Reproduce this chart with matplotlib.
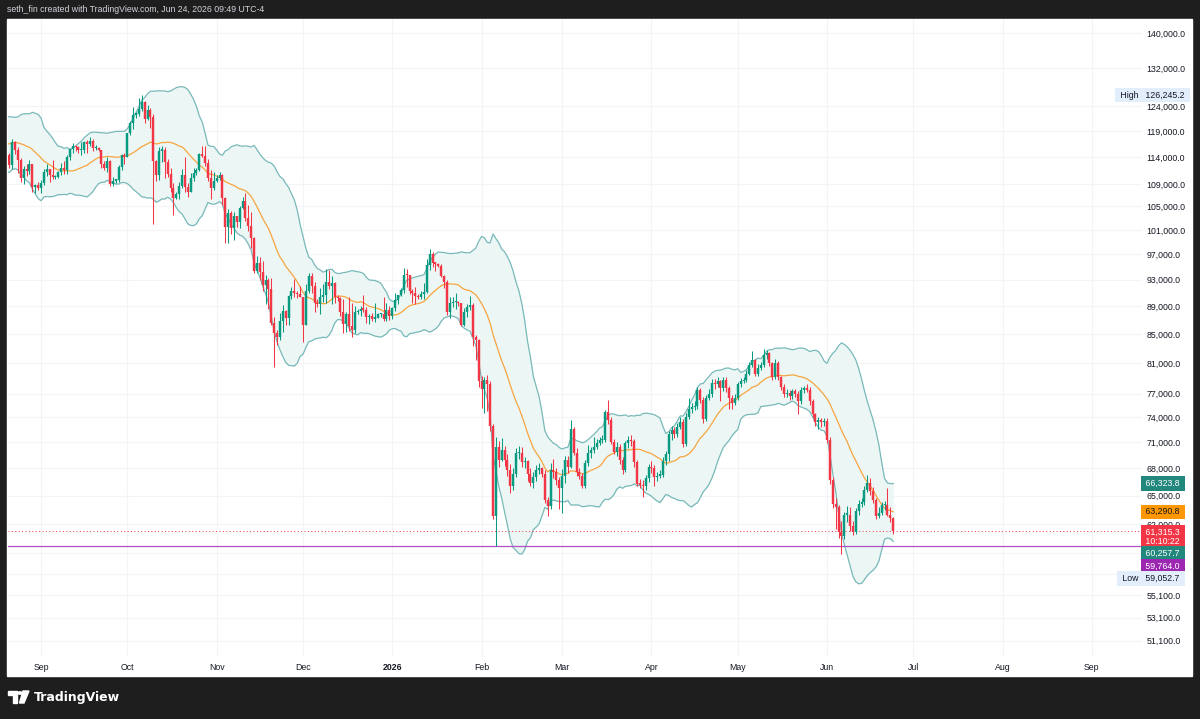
import numpy as np
import pandas as pd
import matplotlib
matplotlib.use('Agg')
import matplotlib.pyplot as plt
import matplotlib.dates as mdates
from matplotlib.ticker import FixedLocator, NullLocator, FuncFormatter
from matplotlib.patches import Rectangle, Polygon, Circle

plt.rcParams['font.family'] = ['Liberation Sans', 'DejaVu Sans']

# BTC/USD daily, thousands of USD. Closes start 2025-08-01 (first 19 days only warm up the bands),
# highs / lows start 2025-08-20, the first candle on screen.
aug_close = [113.3, 112.5, 114.2, 115.0, 114.1, 115.0, 117.5, 116.7, 116.5, 119.3,
             118.7, 120.2, 123.3, 118.3, 117.4, 117.5, 117.5, 116.3, 112.9, 114.3,
             112.5, 116.9, 115.4, 113.5, 110.1, 111.8, 111.3, 112.6, 108.4, 108.8, 108.2]
aug_high = [114.6, 114.8, 117.4, 117.0, 115.8, 113.7, 112.3, 112.6, 113.4, 112.6, 109.0, 109.4]
aug_low = [112.4, 112.0, 111.7, 114.6, 111.0, 109.3, 109.0, 110.4, 110.9, 107.5, 107.4, 107.9]

sep_close = [109.2, 111.2, 111.7, 110.7, 110.2, 110.2, 111.1, 112.0, 111.5, 113.9,
             115.5, 116.1, 115.9, 115.3, 115.4, 116.8, 116.4, 117.1, 115.7, 115.7,
             115.3, 112.7, 112.0, 113.3, 109.0, 109.6, 109.7, 112.1, 114.4, 114.0]
sep_high = [109.8, 111.8, 112.6, 111.7, 113.4, 110.6, 111.4, 112.9, 113.2, 114.3,
            115.6, 116.7, 116.3, 116.1, 116.8, 117.0, 117.2, 117.9, 117.5, 116.3,
            115.9, 115.4, 113.3, 113.9, 113.4, 110.3, 109.8, 112.4, 114.5, 114.8]
sep_low = [107.3, 108.8, 110.5, 109.3, 109.9, 109.9, 110.0, 110.7, 110.9, 110.9,
           113.5, 114.8, 115.2, 114.8, 114.4, 114.8, 114.8, 116.1, 115.2, 115.4,
           115.1, 111.9, 111.5, 111.2, 108.7, 108.7, 109.1, 109.3, 111.6, 112.7]

oct_close = [118.6, 120.6, 122.3, 122.4, 123.5, 124.8, 121.4, 123.3, 121.7, 113.2,
             110.6, 115.2, 115.3, 113.0, 110.8, 108.2, 106.5, 107.2, 108.7, 110.6,
             108.5, 107.6, 110.1, 111.0, 111.6, 114.5, 114.1, 112.9, 110.0, 108.3, 109.6]
oct_high = [118.6, 121.0, 123.9, 122.9, 125.7, 126.2452, 125.1, 124.2, 123.6, 122.5,
            113.4, 115.9, 116.0, 115.9, 113.6, 111.9, 109.2, 107.6, 109.4, 111.7,
            114.0, 109.1, 111.0, 112.0, 111.9, 114.8, 116.1, 116.0, 113.6, 111.6, 111.2]
oct_low = [113.9, 118.2, 119.4, 121.6, 122.0, 123.0, 120.6, 121.1, 119.6, 102.0,
           109.6, 109.8, 113.0, 110.1, 110.2, 107.6, 103.5, 106.4, 106.3, 108.3,
           107.5, 106.7, 107.5, 109.6, 110.7, 111.3, 113.9, 112.2, 109.6, 106.3, 108.0]

nov_close = [110.1, 110.6, 106.5, 101.5, 103.9, 101.3, 103.3, 102.3, 104.7, 106.0,
             103.0, 101.6, 99.7, 94.4, 95.6, 94.2, 92.2, 92.9, 91.5, 86.6,
             85.1, 84.6, 86.8, 88.3, 87.3, 90.5, 91.3, 90.9, 90.8, 90.4]
nov_high = [110.6, 111.2, 110.8, 106.6, 104.6, 104.2, 104.0, 103.4, 105.0, 106.6,
            107.3, 105.3, 104.0, 99.8, 96.8, 96.6, 96.0, 93.8, 93.2, 93.2,
            87.4, 85.6, 88.0, 89.2, 88.5, 90.6, 91.9, 93.1, 91.2, 92.0]
nov_low = [109.4, 109.7, 105.3, 98.9, 98.9, 100.3, 99.3, 101.5, 101.4, 104.5,
           102.5, 100.8, 98.0, 94.0, 94.0, 93.0, 91.2, 89.3, 88.6, 86.3,
           80.5, 83.5, 84.2, 85.3, 86.2, 86.3, 90.1, 90.3, 90.2, 90.3]

dec_close = [86.3, 91.3, 93.5, 92.1, 89.4, 89.3, 90.4, 90.6, 92.7, 92.0,
             92.5, 90.3, 90.2, 88.2, 86.4, 87.8, 86.1, 85.5, 88.1, 88.3,
             88.6, 88.5, 87.4, 87.6, 87.2, 87.3, 87.8, 87.8, 87.1, 88.4, 87.5]
dec_high = [90.4, 92.3, 94.1, 94.0, 92.7, 90.0, 91.7, 92.3, 94.6, 94.5,
            93.6, 92.7, 90.6, 90.3, 90.1, 88.2, 90.3, 89.4, 89.0, 88.6,
            89.0, 90.6, 88.9, 87.9, 88.0, 89.5, 88.0, 88.0, 90.3, 89.4, 89.0]
dec_low = [83.8, 86.2, 91.0, 91.0, 88.1, 88.9, 87.8, 89.6, 89.5, 91.6,
           89.3, 89.5, 89.8, 87.6, 85.2, 85.3, 85.4, 84.5, 85.2, 87.9,
           87.6, 88.1, 86.6, 86.4, 86.9, 86.7, 87.3, 87.4, 86.9, 86.8, 87.0]

jan_close = [88.7, 89.9, 90.6, 91.4, 93.8, 93.7, 91.3, 91.0, 90.5, 90.4,
             90.8, 91.1, 95.3, 97.0, 95.6, 95.5, 95.1, 93.6, 92.7, 88.2,
             89.5, 89.6, 89.6, 89.4, 86.3, 88.1, 88.9, 89.2, 84.6, 84.1, 78.6]
jan_high = [88.9, 90.9, 90.7, 91.8, 94.8, 94.6, 93.8, 91.6, 91.9, 90.8,
            91.2, 92.5, 96.2, 97.9, 97.3, 95.8, 95.6, 95.5, 93.7, 92.9,
            90.3, 90.4, 91.0, 89.8, 89.4, 88.8, 89.3, 90.5, 89.4, 84.8, 84.3]
jan_low = [87.1, 88.3, 89.3, 90.5, 91.0, 91.9, 90.8, 89.5, 89.3, 90.1,
           90.0, 90.0, 90.9, 94.5, 95.0, 94.3, 94.9, 93.4, 91.8, 87.7,
           87.3, 88.9, 88.6, 89.1, 86.1, 86.1, 87.4, 88.5, 83.3, 81.4, 77.8]

feb_close = [77.6, 78.7, 78.2, 73.0, 62.8, 70.5, 69.0, 70.1, 69.0, 67.8,
             66.0, 67.4, 69.8, 69.8, 68.7, 68.9, 67.4, 66.4, 67.0, 67.8,
             68.0, 67.4, 64.5, 63.9, 67.8, 67.6, 66.7, 65.8]
feb_high = [79.3, 79.2, 79.4, 78.6, 73.2, 71.6, 71.2, 71.5, 70.6, 69.6,
            68.5, 68.1, 70.3, 70.6, 70.5, 69.3, 69.0, 68.0, 67.6, 68.4,
            68.6, 68.2, 67.8, 64.9, 68.6, 69.1, 68.0, 67.0]
feb_low = [75.2, 74.6, 74.8, 72.4, 62.5, 59.764, 68.2, 68.8, 68.3, 67.2,
           65.3, 65.6, 67.0, 69.1, 68.2, 68.0, 66.6, 66.0, 65.8, 66.6,
           67.4, 67.1, 64.2, 62.9, 63.6, 66.9, 66.2, 63.6]

mar_close = [67.2, 69.0, 68.2, 72.6, 69.8, 67.6, 67.2, 66.0, 68.6, 69.8,
             70.1, 70.5, 70.9, 71.3, 71.3, 74.7, 73.7, 71.1, 69.9, 70.5,
             69.0, 67.8, 70.9, 71.3, 71.2, 68.7, 66.3, 66.2, 66.0, 66.9, 68.2]
mar_high = [67.9, 69.4, 69.4, 73.7, 72.9, 70.3, 68.0, 67.5, 69.0, 70.7,
            70.5, 71.7, 71.4, 71.7, 71.9, 74.9, 76.2, 74.0, 71.4, 71.0,
            70.8, 69.3, 71.2, 71.8, 71.9, 71.4, 69.0, 66.8, 66.7, 67.3, 68.5]
mar_low = [63.2, 66.4, 67.5, 68.0, 69.5, 67.2, 66.8, 65.8, 65.8, 68.3,
           69.2, 69.8, 70.2, 70.7, 70.9, 71.1, 73.2, 70.8, 69.6, 69.4,
           68.5, 67.4, 67.6, 70.4, 70.6, 68.2, 66.0, 65.8, 64.9, 65.6, 66.5]

apr_close = [68.0, 67.0, 67.2, 67.3, 68.9, 69.6, 72.0, 72.5, 72.0, 72.9,
             73.5, 70.8, 74.1, 75.0, 75.3, 75.4, 77.5, 76.2, 73.8, 76.4,
             76.9, 78.4, 78.2, 78.6, 77.7, 78.8, 77.7, 76.4, 75.8, 76.4]
apr_high = [68.9, 68.4, 67.6, 67.8, 69.3, 70.0, 72.4, 73.0, 72.9, 73.3,
            74.0, 73.8, 74.5, 76.4, 75.8, 76.1, 77.9, 77.7, 76.6, 76.8,
            77.6, 78.9, 78.9, 79.1, 78.8, 79.1, 79.2, 78.0, 76.8, 76.9]
apr_low = [67.5, 66.1, 66.6, 66.9, 67.1, 68.4, 68.9, 71.3, 71.5, 71.6,
           72.6, 70.5, 70.6, 73.8, 74.6, 74.9, 75.1, 75.8, 73.3, 73.6,
           76.2, 76.6, 77.6, 77.8, 76.0, 77.3, 77.2, 75.1, 75.1, 75.5]

may_close = [78.2, 78.6, 78.8, 79.6, 80.7, 81.4, 79.6, 80.3, 80.7, 82.1,
             82.3, 81.0, 79.1, 81.0, 79.1, 77.9, 76.9, 77.1, 76.7, 77.3,
             77.0, 76.0, 77.5, 77.6, 77.5, 76.0, 74.4, 73.5, 73.7, 73.4, 73.6]
may_high = [78.5, 79.0, 79.2, 80.0, 81.1, 82.6, 81.6, 80.8, 81.2, 82.9,
            82.8, 82.5, 81.2, 81.6, 81.3, 79.3, 78.2, 77.6, 77.5, 77.6,
            77.6, 77.3, 77.8, 78.0, 78.2, 77.8, 76.3, 74.6, 74.1, 73.9, 73.9]
may_low = [76.2, 77.9, 78.3, 78.5, 79.4, 80.5, 79.3, 79.3, 80.0, 80.4,
           81.5, 80.6, 78.7, 78.9, 78.8, 77.4, 76.5, 76.5, 76.2, 76.3,
           76.6, 74.4, 75.7, 77.1, 77.2, 75.6, 74.1, 73.0, 72.6, 72.9, 73.0]

jun_close = [71.3, 66.7, 64.1, 63.8, 61.2, 60.8, 63.0, 63.0, 61.8, 61.2,
             63.4, 64.1, 64.3, 65.6, 66.4, 65.5, 64.5, 62.9, 63.2, 64.0,
             64.0, 63.0, 62.6, 61.3153]
jun_high = [73.9, 71.6, 67.0, 64.7, 64.0, 62.3, 63.3, 63.9, 63.8, 62.3,
            63.7, 64.5, 64.8, 66.1, 67.3, 66.9, 65.9, 64.8, 63.8, 64.3,
            64.4, 65.8, 63.8, 62.7]
jun_low = [70.9, 66.3, 63.7, 61.5, 60.6, 59.0527, 60.5, 62.2, 61.3, 60.9,
           61.0, 63.0, 63.8, 64.0, 65.4, 65.1, 64.2, 62.5, 62.6, 63.0,
           63.5, 62.8, 62.2, 61.0]

price_ticks = [140000, 132000, 124000, 119000, 114000, 109000, 105000, 101000, 97000, 93000,
               89000, 85000, 81000, 77000, 74000, 71000, 68000, 65000, 62000, 59100,
               57100, 55100, 53100, 51100]
hidden_ticks = [59100, 57100]
month_labels = ['Sep', 'Oct', 'Nov', 'Dec', '2026', 'Feb', 'Mar', 'Apr', 'May', 'Jun', 'Jul', 'Aug', 'Sep']
hline_level = 59764.0
header = 'seth_fin created with TradingView.com, Jun 24, 2026 09:49 UTC-4'
countdown = '10:10:22'

closes = np.array(aug_close + sep_close + oct_close + nov_close + dec_close + jan_close
                  + feb_close + mar_close + apr_close + may_close + jun_close) * 1000
highs = np.array(aug_high + sep_high + oct_high + nov_high + dec_high + jan_high
                 + feb_high + mar_high + apr_high + may_high + jun_high) * 1000
lows = np.array(aug_low + sep_low + oct_low + nov_low + dec_low + jan_low
                + feb_low + mar_low + apr_low + may_low + jun_low) * 1000
dates = pd.date_range('2025-08-01', periods=len(closes), freq='D')
first = len(closes) - len(highs)
opens = np.r_[closes[0], closes[:-1]]

s = pd.Series(closes)
basis = s.rolling(20).mean().values
dev = s.rolling(20).std(ddof=0).values
upper = basis + 2 * dev
lower = basis - 2 * dev

W, H = 1200, 719
FS = 6.3
fig = plt.figure(figsize=(W / 100, H / 100), dpi=100, facecolor='#1e1e1e')
fig.patches.append(Rectangle((7 / W, 1 - 676 / H), 1185 / W, 657 / H,
                             transform=fig.transFigure, color='white', zorder=-5))
ax = fig.add_axes([8 / W, 1 - 657 / H, 1134 / W, 638 / H])
ax.set_zorder(2)
ax.set_facecolor('white')
for sp in ax.spines.values():
    sp.set_visible(False)

xd = mdates.date2num(dates.to_pydatetime())
x = xd[first:]
o = opens[first:]
c = closes[first:]
up = c >= o
col = np.where(up, '#089981', '#F23645')

# bollinger bands (20, 2)
ax.fill_between(xd, lower, upper, color='#ecf7f5', lw=0, zorder=1)
ax.plot(xd, upper, color='#78b9b9', lw=0.9, zorder=2)
ax.plot(xd, lower, color='#78b9b9', lw=0.9, zorder=2)
ax.plot(xd, basis, color='#F7A440', lw=0.9, zorder=2)

ax.axhline(hline_level, color='#B04FC6', lw=0.9, zorder=2)
ax.axhline(closes[-1], color='#F23645', lw=0.7, ls=(0, (1, 2.5)), zorder=2)

# candles
ax.vlines(x, lows, highs, colors=col, lw=0.75, zorder=3)
bot = np.minimum(o, c)
top = np.maximum(np.maximum(o, c), bot * 1.002)
ax.vlines(x, bot, top, colors=col, lw=1.75, zorder=3)

ax.set_yscale('log')
ax.set_ylim(49745, 143290)
x0 = mdates.date2num(pd.Timestamp('2025-09-01'))
ax.set_xlim(x0 - 11.46, x0 + 382.4)

ax.yaxis.set_major_locator(FixedLocator(price_ticks))
ax.yaxis.set_minor_locator(NullLocator())
ax.yaxis.set_major_formatter(FuncFormatter(lambda v, p: '' if round(v) in hidden_ticks else f'{v:,.1f}'))
ax.yaxis.tick_right()
ax.tick_params(axis='y', length=0, pad=3.4, labelsize=FS, labelcolor='#131722')

month_ticks = [mdates.date2num(t) for t in pd.date_range('2025-09-01', '2026-09-01', freq='MS').to_pydatetime()]
ax.set_xticks(month_ticks)
ax.set_xticklabels(month_labels)
ax.xaxis.set_minor_locator(NullLocator())
ax.tick_params(axis='x', length=0, pad=4.3, labelsize=FS, labelcolor='#131722')
for lbl in ax.get_xticklabels():
    if lbl.get_text() == '2026':
        lbl.set_fontweight('bold')

ax.grid(True, color='#f3f4f6', lw=0.8, zorder=0)
ax.set_axisbelow(True)


def tag(price, text, bg, fg='white', dy=0.0):
    ax.annotate(' ' + text.replace('\n', ' \n ') + ' ', xy=(1, price), xycoords=('axes fraction', 'data'),
                xytext=(1.0, dy), textcoords='offset points', ha='left', va='center',
                fontsize=FS, color=fg, zorder=6, annotation_clip=False, linespacing=1.0,
                bbox=dict(boxstyle='square,pad=0.3', fc=bg, ec='none'))


tag(upper[-1], f'{upper[-1]:,.1f}', '#22877d')
tag(basis[-1], f'{basis[-1]:,.1f}', '#FF9800', fg='#131722')
tag(closes[-1], f'{closes[-1]:,.1f}\n{countdown}', '#F23645', dy=-4.3)
tag(lower[-1], f'{lower[-1]:,.1f}', '#22877d', dy=-8.8)
tag(hline_level, f'{hline_level:,.1f}', '#9C27B0', dy=-14.6)
tag(lows.min(), f'{lows.min():,.1f}', '#e3eefc', fg='#131722', dy=-18.0)
tag(highs.max(), f'{highs.max():,.1f}', '#e3eefc', fg='#131722')
for price, word, dy in [(highs.max(), 'High', 0.0), (lows.min(), 'Low', -18.0)]:
    ax.annotate(' ' + word + ' ', xy=(1, price), xycoords=('axes fraction', 'data'),
                xytext=(-1.0, dy), textcoords='offset points', ha='right', va='center',
                fontsize=FS, color='#131722', zorder=6, annotation_clip=False,
                bbox=dict(boxstyle='square,pad=0.3', fc='#e3eefc', ec='none'))

fig.text(7 / W, 1 - 10 / H, header, color='#d1d4dc', fontsize=6.3, va='center', ha='left')

# TradingView logo in the footer
def px(xp, yp):
    return (xp / W, 1 - yp / H)

tf = fig.transFigure
fig.patches.append(Polygon([px(8, 691), px(17, 691), px(17, 703), px(13, 703), px(13, 695), px(8, 695)],
                           closed=True, transform=tf, color='white'))
fig.patches.append(Circle(px(20, 693), 2.0 / W, transform=tf, color='white'))
fig.patches.append(Polygon([px(23, 691), px(29, 691), px(24, 703), px(19.5, 703)],
                           closed=True, transform=tf, color='white'))
fig.text(34 / W, 1 - 697 / H, 'TradingView', color='white', fontsize=9, fontweight='bold',
         va='center', ha='left', family=['DejaVu Sans'])

fig.savefig('out.png', dpi=100, facecolor=fig.get_facecolor())
